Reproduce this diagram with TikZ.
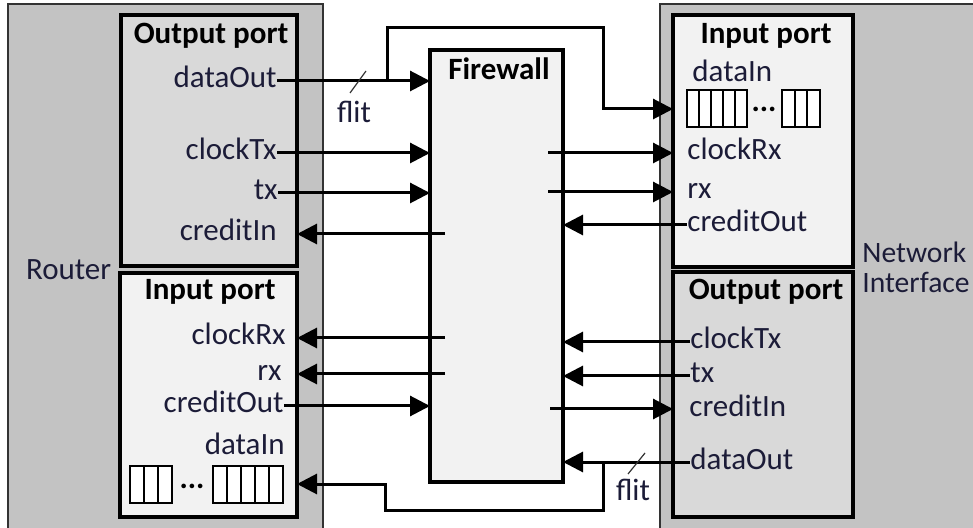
\documentclass[tikz,border=0pt]{standalone}
\usepackage{fontspec}
\setmainfont{Carlito}
\usetikzlibrary{arrows.meta,positioning}
\definecolor{hostgray}{HTML}{C3C3C3}
\definecolor{portgray}{HTML}{D9D9D9}
\definecolor{portwhite}{HTML}{F2F2F2}
\definecolor{labelink}{HTML}{1C1C38}

\begin{document}
\begin{tikzpicture}[
  x=0.5pt, y=-0.5pt,
  font=\fontsize{15.5}{18}\selectfont, text=labelink,
  host/.style={draw=black!80, line width=0.7pt, fill=hostgray,
    anchor=north west, inner sep=0pt, outer sep=0pt},
  port/.style={draw=black, line width=2pt, anchor=north west,
    inner sep=0pt, outer sep=0pt},
  portname/.style={font=\fontsize{15.5}{18}\selectfont\bfseries,
    text=black, text height=10pt, text depth=3pt, inner sep=0pt},
  sig/.style={inner sep=0pt, text height=10pt, text depth=3pt},
  bus/.style={line width=1.5pt},
  wire/.style={bus, -{Triangle[length=10pt, width=10pt]}},
  fifo/.style 2 args={draw=black, fill=white, line width=1pt,
    inner sep=0pt, outer sep=0pt, minimum width=#1*#2,
    minimum height=18.5pt,
    path picture={
      \foreach \k in {1,...,#1}{
        \ifnum\k<#1
          \draw[line width=1pt]
            ([xshift=\k*#2]path picture bounding box.south west) --
            ([xshift=\k*#2]path picture bounding box.north west);
        \fi}
    }},
  flitmark/.style={draw=black!80, line width=0.6pt},
]
  \useasboundingbox (0,0) rectangle (973,528);
  \clip (0,0) rectangle (973,528);
  \fill[white] (0,0) rectangle (973,528);

  % the two hosts
  \node[host, minimum width=157.5pt, minimum height=270pt] (router) at (8,4) {};
  \node[host, minimum width=170pt, minimum height=270pt] (netif) at (660,4) {};
  \node[anchor=west] (routerlbl) at (19,270) {Router};
  \node[anchor=north west, align=left, inner sep=0pt,
    font=\fontsize{14.8}{15}\selectfont] (netiflbl) at (862,242)
    {Network\\Interface};

  % ports
  \node[port, fill=portgray, minimum width=88pt, minimum height=125.5pt]
    (roport) at (121,15) {};
  \node[port, fill=portwhite, minimum width=88.5pt, minimum height=122pt]
    (riport) at (120,273) {};
  \node[port, fill=portwhite, minimum width=90pt, minimum height=126pt]
    (niport) at (673,15) {};
  \node[port, fill=portgray, minimum width=90pt, minimum height=122.5pt]
    (noport) at (673,272) {};
  \node[port, line width=1.6pt, fill=portwhite, minimum width=66.5pt,
    minimum height=216pt] (fw) at (430,50) {};

  \node[portname] (rotitle) at (211,37) {Output port};
  \node[portname] (rititle) at (210,293) {Input port};
  \node[portname] (nititle) at (766,37) {Input port};
  \node[portname] (notitle) at (766,293) {Output port};
  \node[portname] (fwtitle) at (499,73) {Firewall};

  % router side signals
  \node[sig, anchor=east] (rodout) at (277,81) {dataOut};
  \node[sig, anchor=east] (roclk) at (277,153) {clockTx};
  \node[sig, anchor=east] (rotx) at (278,193) {tx\hspace{5pt}};
  \node[sig, anchor=east] (rocin) at (277,234) {creditIn};
  \node[sig, anchor=east] (riclk) at (286,338) {clockRx};
  \node[sig, anchor=east] (rirx) at (282,374) {rx};
  \node[sig, anchor=east] (ricout) at (284,406) {creditOut};
  \node[sig, anchor=east] (ridin) at (285,447) {dataIn};

  % network interface side signals
  \node[sig, anchor=west] (nidin) at (692,75) {dataIn};
  \node[sig, anchor=west] (niclk) at (687,153) {clockRx};
  \node[sig, anchor=west] (nirx) at (687,192) {rx};
  \node[sig, anchor=west] (nicout) at (687,225) {creditOut};
  \node[sig, anchor=west] (noclk) at (690,342) {clockTx};
  \node[sig, anchor=west] (notx) at (690,376) {tx};
  \node[sig, anchor=west] (nocin) at (689,409) {creditIn};
  \node[sig, anchor=west] (nodout) at (690,462) {dataOut};

  % buffers
  \node[fifo={3}{7pt}, anchor=west] (ribufa) at (130,484) {};
  \node[anchor=base, text=black] (ridots) at (192,488) {\textbf{...}};
  \node[fifo={5}{7pt}, anchor=west] (ribufb) at (213,484) {};
  \node[fifo={5}{6pt}, anchor=west] (nibufa) at (687,109) {};
  \node[anchor=base, text=black] (nidots) at (764,112) {\textbf{...}};
  \node[fifo={3}{6.3pt}, anchor=west] (nibufb) at (782,109) {};

  % router -> firewall -> network interface
  \draw[wire] (rodout.east) -- (rodout.east -| fw.west);
  \draw[wire] (roclk.east) -- (roclk.east -| fw.west);
  \draw[wire] (rotx.east) -- (rotx.east -| fw.west);
  \draw[wire] (fw.west |- rocin) ++(15,0) -- (roport.east |- rocin);
  \draw[wire] (fw.east |- niclk) ++(-15,0) -- (niport.west |- niclk);
  \draw[wire] (fw.east |- nirx) ++(-15,0) -- (niport.west |- nirx);
  \draw[wire] (nicout.west) -- (nicout.west -| fw.east);
  \coordinate (topsplit) at (387,81);
  \coordinate (topbend) at (603,28);
  \draw[wire] (topsplit) |- (topbend) |- (niport.west |- nibufa.west);
  \draw[flitmark] (350,93) -- (366,71);
  \node[sig] (topflit) at (354,116) {flit};

  % network interface -> firewall -> router
  \draw[wire] (fw.west |- riclk) ++(15,0) -- (riport.east |- riclk);
  \draw[wire] (fw.west |- rirx) ++(15,0) -- (riport.east |- rirx);
  \draw[wire] (ricout.east) -- (ricout.east -| fw.west);
  \draw[wire] (noclk.west) -- (noclk.west -| fw.east);
  \draw[wire] (notx.west) -- (notx.west -| fw.east);
  \draw[wire] (fw.east |- nocin) ++(-13,0) -- (noport.west |- nocin);
  \draw[wire] (nodout.west) -- (nodout.west -| fw.east);
  \coordinate (botsplit) at (603,462);
  \coordinate (botbend) at (385,510);
  \draw[wire] (botsplit) |- (botbend) |- (riport.east |- ribufb.east);
  \draw[flitmark] (628,474) -- (645,453);
  \node[sig] (botflit) at (633,493) {flit};
\end{tikzpicture}
\end{document}
